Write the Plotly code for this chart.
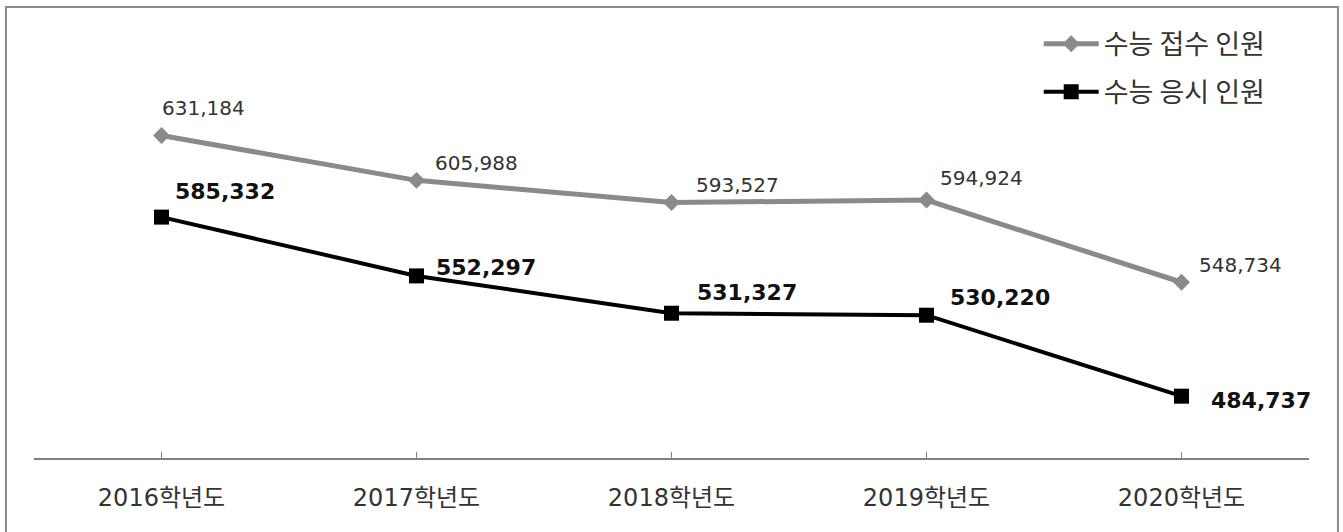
import plotly.graph_objects as go

# 수능 접수/응시 인원 (2016~2020학년도)
years      = ["2016학년도", "2017학년도", "2018학년도", "2019학년도", "2020학년도"]
applied    = [631184, 605988, 593527, 594924, 548734]
took_exam  = [585332, 552297, 531327, 530220, 484737]
name_applied = "수능 접수 인원"
name_took    = "수능 응시 인원"

FONT = "Noto Sans CJK KR, Malgun Gothic, sans-serif"
NUMFONT = "DejaVu Sans, Noto Sans CJK KR, sans-serif"
GRAY = "#8a8a8a"

fig = go.Figure()
fig.add_trace(go.Scatter(x=years, y=applied, name=name_applied, mode="lines+markers",
                         line=dict(color=GRAY, width=5),
                         marker=dict(symbol="diamond", size=13, color=GRAY),
                         legendgroup="a"))
fig.add_trace(go.Scatter(x=years, y=took_exam, name=name_took, mode="lines+markers",
                         line=dict(color="black", width=4),
                         marker=dict(symbol="square", size=15, color="black"),
                         legendgroup="b"))

# label offsets (px) relative to each point
gray_off  = [(-2, 27), (16, 17), (22, 18), (11, 22), (15, 17)]
black_off = [(11, 26), (17, 8), (23, 21), (21, 18), (27, -4)]

for i, yr in enumerate(years):
    fig.add_annotation(x=yr, y=applied[i], text=f"{applied[i]:,}", showarrow=False,
                       xanchor="left", yanchor="middle",
                       xshift=gray_off[i][0], yshift=gray_off[i][1],
                       font=dict(family=NUMFONT, size=20, color="#333333"))
    fig.add_annotation(x=yr, y=took_exam[i], text=f"<b>{took_exam[i]:,}</b>", showarrow=False,
                       xanchor="left", yanchor="middle",
                       xshift=black_off[i][0], yshift=black_off[i][1],
                       font=dict(family=NUMFONT, size=22, color="#111111"))

# outer frame
fig.add_shape(type="rect", xref="paper", yref="paper",
              x0=-0.022, x1=1.0227, y0=-0.3, y1=1.0135,
              line=dict(color="#8a8a8a", width=2), layer="below")

fig.update_xaxes(type="category", range=[-0.5, 4.5], showgrid=False,
                 showline=True, linecolor="#808080", linewidth=1.5,
                 ticks="inside", ticklen=6, tickcolor="#808080",
                 tickfont=dict(family=NUMFONT, size=24, color="#333333"),
                 ticklabelstandoff=17)
fig.update_yaxes(range=[450000, 700000], visible=False, showgrid=False)

fig.update_layout(
    width=1343, height=532,
    margin=dict(l=34, r=34, t=13, b=74),
    paper_bgcolor="white", plot_bgcolor="white",
    font=dict(family=FONT, color="#333333"),
    legend=dict(x=0.788, y=0.985, xanchor="left", yanchor="top",
                font=dict(family=FONT, size=27, color="#333333"),
                itemwidth=55, tracegroupgap=10, bgcolor="rgba(0,0,0,0)"),
)

fig.write_html("out.html", config={"displayModeBar": False},
               post_script="document.body.style.margin='0';")
